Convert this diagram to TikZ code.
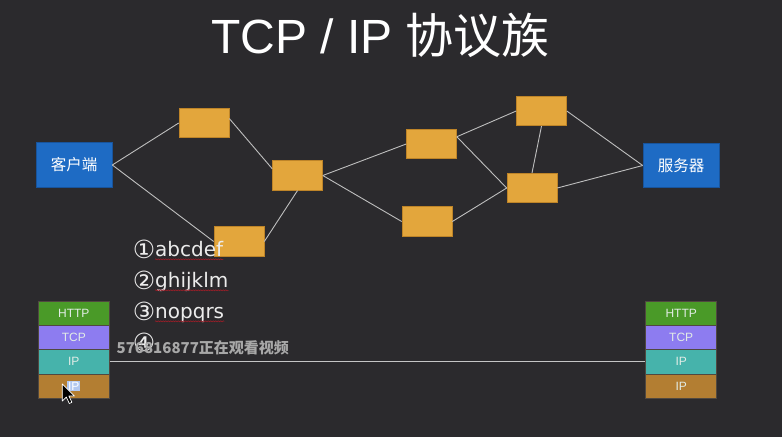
\documentclass[tikz,border=0pt]{standalone}
\usepackage{fontspec}
\setmainfont{Liberation Sans}
\newfontfamily\cjk{Noto Sans CJK SC}
\newfontfamily\symfont{DejaVu Sans}
\usetikzlibrary{calc,decorations.pathmorphing}

\definecolor{bg}{RGB}{43,42,45}
\definecolor{host}{RGB}{30,107,196}
\definecolor{hostedge}{RGB}{24,84,156}
\definecolor{router}{RGB}{227,166,60}
\definecolor{routeredge}{RGB}{190,132,40}
\definecolor{linkgray}{RGB}{190,190,190}
\definecolor{httpgreen}{RGB}{74,154,40}
\definecolor{tcppurple}{RGB}{141,124,240}
\definecolor{ipteal}{RGB}{70,179,171}
\definecolor{linkbrown}{RGB}{179,126,50}
\definecolor{stackedge}{RGB}{80,72,64}
\definecolor{layertext}{RGB}{226,236,230}
\definecolor{listtext}{RGB}{236,236,236}
\definecolor{squiggle}{RGB}{150,30,40}
\definecolor{selblue}{RGB}{178,200,240}
\definecolor{watermark}{RGB}{168,168,168}

\begin{document}
\begin{tikzpicture}[x=1pt,y=-1pt,
  router/.style={draw=routeredge, fill=router, line width=0.6pt,
    minimum width=50pt, minimum height=29.5pt, inner sep=0pt},
  host/.style={draw=hostedge, fill=host, line width=0.6pt,
    minimum width=76pt, minimum height=44.5pt, inner sep=0pt,
    text=white, font=\cjk\fontsize{15.5}{18}\selectfont},
  link/.style={draw=linkgray, line width=0.9pt},
  layer/.style={draw=stackedge, line width=0.5pt,
    minimum width=71pt, minimum height=24.4pt, inner sep=0pt,
    text=layertext, font=\fontsize{12}{14}\selectfont},
  numtext/.style={anchor=center, inner sep=0pt, text=listtext,
    font=\symfont\fontsize{25}{28}\selectfont},
  wordtext/.style={anchor=base west, inner sep=0pt, text=listtext,
    font=\symfont\fontsize{20}{24}\selectfont},
  spellmark/.style={draw=squiggle, line width=0.6pt,
    decorate, decoration={snake, amplitude=0.5pt, segment length=2.5pt}}
]
% canvas
\fill[bg] (0,0) rectangle (782,437);
\useasboundingbox (0,0) rectangle (782,437);

% title
\node[anchor=base west, inner sep=0pt, text=white,
  font=\fontsize{48}{56}\selectfont] (title) at (211,53)
  {TCP / IP {\cjk 协议族}};

% end hosts
\node[host] (client) at (74,165) {客户端};
\node[host] (server) at (681,165.5) {服务器};

% routers
\node[router] (r1) at (204,123) {};
\node[router] (r2) at (297.5,175.5) {};
\node[router] (r3) at (239,241.5) {};
\node[router] (r4) at (431.5,144) {};
\node[router] (r5) at (427,221.5) {};
\node[router] (r6) at (541.5,111) {};
\node[router] (r7) at (532,188) {};

% links of the network
\draw[link] (client.east) -- (r1.west);
\draw[link] (client.east) -- (r3.west);
\draw[link] (r1.10) -- (r2.165);
\draw[link] (r3.east) -- (r2.south);
\draw[link] (r2.east) -- (r4.west);
\draw[link] (r2.east) -- (r5.west);
\draw[link] (r4.16) -- (r6.west);
\draw[link] (r4.16) -- (r7.west);
\draw[link] (r5.east) -- (r7.west);
\draw[link] (r6.south) -- (r7.north);
\draw[link] (r6.east) -- (server.west);
\draw[link] (r7.east) -- (server.west);

% numbered list
\node[numtext] (n1) at (144,249.5) {①};
\node[wordtext] (w1) at (155,256.5) {abcdef};
\node[numtext] (n2) at (144,280.5) {②};
\node[wordtext] (w2) at (155,287.5) {ghijklm};
\node[numtext] (n3) at (144,311.5) {③};
\node[wordtext] (w3) at (155,318.5) {nopqrs};
\node[numtext] (n4) at (144,342) {④};

\draw[spellmark] ($(w1.base west)+(0,2.8)$) -- ($(w1.base east)+(0,2.8)$);
\draw[spellmark] ($(w2.base west)+(0,2.8)$) -- ($(w2.base east)+(0,2.8)$);
\draw[spellmark] ($(w3.base west)+(0,2.8)$) -- ($(w3.base east)+(0,2.8)$);

% protocol stacks
\node[layer, fill=httpgreen] (lhttp) at (73.8,313.0) {HTTP};
\node[layer, fill=tcppurple] (ltcp) at (73.8,337.4) {TCP};
\node[layer, fill=ipteal] (lip) at (73.8,361.8) {IP};
\node[layer, fill=linkbrown] (llink) at (73.8,386.2) {};
\node[fill=selblue, inner sep=0.8pt, text=white,
  font=\fontsize{12}{14}\selectfont] (lsel) at (llink.center) {IP};

\node[layer, fill=httpgreen] (rhttp) at (681.2,313.0) {HTTP};
\node[layer, fill=tcppurple] (rtcp) at (681.2,337.4) {TCP};
\node[layer, fill=ipteal] (rip) at (681.2,361.8) {IP};
\node[layer, fill=linkbrown] (rlink) at (681.2,386.2) {IP};

\draw[draw=linkgray!90!white, line width=0.9pt] (lip.east) -- (rip.west);

% viewer counter
\node[anchor=west, inner sep=0pt, text=watermark,
  font=\cjk\bfseries\fontsize{15}{18}\selectfont] (viewers) at (116.5,347.5)
  {576816877正在观看视频};

% mouse pointer
\coordinate (tip) at (62.3,384);
\filldraw[fill=black, draw=white, line width=0.7pt, line join=round]
  (tip) -- ++(0,17) -- ++(4,-4) -- ++(3,6.5) -- ++(2.6,-1.2)
  -- ++(-3,-6.3) -- ++(5.6,0) -- cycle;
\end{tikzpicture}
\end{document}
